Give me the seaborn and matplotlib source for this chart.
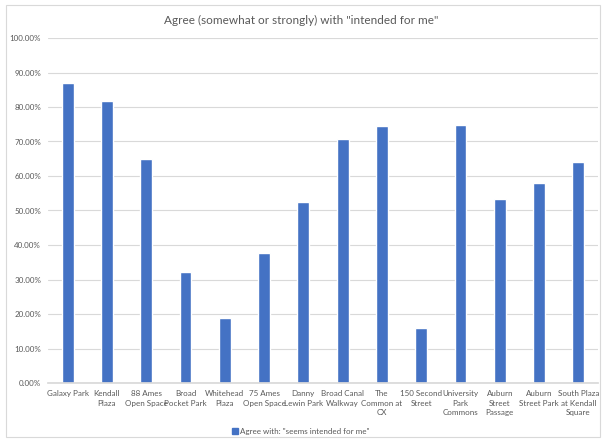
import matplotlib
matplotlib.use("Agg")
import matplotlib.pyplot as plt
import seaborn as sns
import pandas as pd
from matplotlib.ticker import FuncFormatter, MultipleLocator
from matplotlib.patches import Rectangle

categories = ["Galaxy Park", "Kendall\nPlaza", "88 Ames\nOpen Space", "Broad\nPocket Park",
              "Whitehead\nPlaza", "75 Ames\nOpen Space", "Danny\nLewin Park", "Broad Canal\nWalkway",
              "The\nCommon at\nCX", "150 Second\nStreet", "University\nPark\nCommons",
              "Auburn\nStreet\nPassage", "Auburn\nStreet Park", "South Plaza\nat Kendall\nSquare"]
values = [0.870, 0.817, 0.649, 0.322, 0.188, 0.376, 0.524, 0.708, 0.744, 0.159, 0.747, 0.533, 0.580, 0.640]
series_name = 'Agree with: "seems intended for me"'
title = 'Agree (somewhat or strongly) with "intended for me"'

df = pd.DataFrame({"cat": categories, "val": values, "series": series_name})

sns.set_theme(style="white")
plt.rcParams["font.family"] = ["Lato", "DejaVu Sans"]

fig = plt.figure(figsize=(6.02, 4.4), dpi=100)
ax = fig.add_axes([48/602, 1-383/440, 550/602, 345/440])

sns.barplot(data=df, x="cat", y="val", hue="series", palette=["#4472C4"],
            width=0.3, ax=ax, legend=False, saturation=1)

ax.set_ylim(0, 1.0)
ax.yaxis.set_major_locator(MultipleLocator(0.1))
ax.yaxis.set_major_formatter(FuncFormatter(lambda v, p: f"{v*100:.2f}%"))
ax.grid(axis="y", color="#D9D9D9", linewidth=0.8)
ax.set_axisbelow(True)
for s in ["top", "right", "left"]:
    ax.spines[s].set_visible(False)
ax.spines["bottom"].set_color("#D9D9D9")
ax.tick_params(axis="y", labelsize=5.8, labelcolor="#595959", length=0, pad=5)
ax.tick_params(axis="x", labelsize=5.8, labelcolor="#595959", length=0, pad=5)
for lbl in ax.get_xticklabels():
    lbl.set_horizontalalignment("center")
    lbl.set_verticalalignment("top")
    lbl.set_multialignment("center")
    lbl.set_linespacing(1.45)
ax.set_xlabel("")
ax.set_ylabel("")
ax.set_xlim(-0.5, len(categories) - 0.5)

fig.text(0.5, 1-20/440, title, ha="center", va="center", fontsize=8.5, color="#595959")

handle = Rectangle((0, 0), 1, 1, color="#4472C4")
fig.legend([handle], [series_name], loc="center", bbox_to_anchor=(0.5, 1-431/440),
           frameon=False, fontsize=5.8, labelcolor="#595959", handlelength=0.7,
           handleheight=0.7, handletextpad=0.3, borderpad=0, borderaxespad=0)

fig.patches.append(Rectangle((6/602, 3/440), 594/602, 432/440, transform=fig.transFigure,
                             fill=False, edgecolor="#D9D9D9", linewidth=0.8))

fig.savefig("out.png", dpi=100)
